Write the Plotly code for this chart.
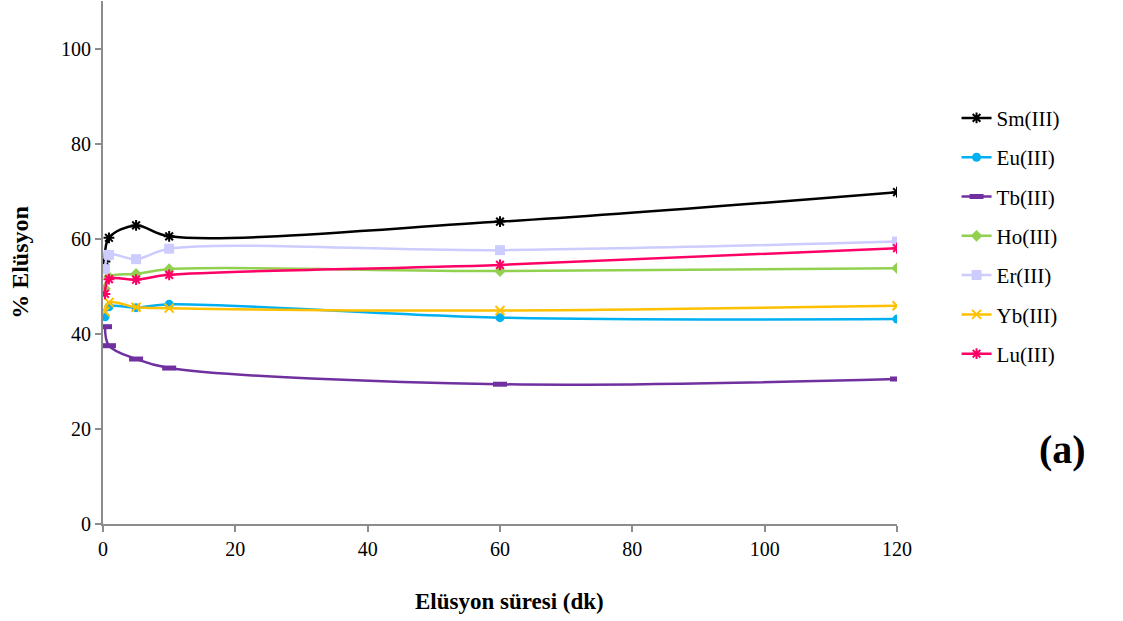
import plotly.graph_objects as go

time_min = [0.3, 0.9, 5, 10, 60, 120]
sm = [55.2, 60.2, 62.8, 60.5, 63.6, 69.8]
eu = [43.6, 45.7, 45.5, 46.2, 43.4, 43.1]
tb = [41.5, 37.5, 34.7, 32.8, 29.4, 30.5]
ho = [49.5, 52.0, 52.6, 53.6, 53.2, 53.8]
er = [53.6, 56.6, 55.7, 57.9, 57.6, 59.4]
yb = [44.7, 46.6, 45.6, 45.4, 44.9, 45.9]
lu = [48.4, 51.5, 51.4, 52.4, 54.5, 58.0]

series = [
    ("Sm(III)", sm, "#000000", "asterisk-open", 9, 2),
    ("Eu(III)", eu, "#00B0F0", "circle", 9, 0),
    ("Tb(III)", tb, "#7030A0", "line-ew-open", 10, 5),
    ("Ho(III)", ho, "#92D050", "diamond", 9, 0),
    ("Er(III)", er, "#CCCCFF", "square", 10, 0),
    ("Yb(III)", yb, "#FFC000", "x-thin-open", 9, 2),
    ("Lu(III)", lu, "#FF0066", "asterisk-open", 9, 2),
]

fig = go.Figure()
for i, (name, vals, color, sym, size, lw) in enumerate(series):
    fig.add_trace(go.Scatter(
        x=time_min, y=vals, name=name, mode="lines+markers",
        line=dict(color=color, width=2.5, shape="spline", smoothing=1.0),
        marker=dict(symbol=sym, size=size, color=color,
                    line=dict(color=color, width=lw)),
        legendgroup=f"g{i}",
    ))

font_family = "Liberation Serif"
fig.update_layout(
    width=1123, height=621,
    margin=dict(l=103, r=226, t=1, b=97),
    paper_bgcolor="white", plot_bgcolor="white",
    font=dict(family=font_family, size=20, color="black"),
    showlegend=True,
    legend=dict(x=1.075, y=0.815, xanchor="left", yanchor="top",
                font=dict(family=font_family, size=21, color="black"),
                tracegroupgap=9, traceorder="grouped",
                bgcolor="rgba(0,0,0,0)"),
    xaxis=dict(range=[0, 120], dtick=20, showgrid=False, zeroline=False,
               showline=True, linecolor="#8c8c8c", linewidth=2,
               ticks="outside", ticklen=6, tickcolor="#8c8c8c", tickwidth=1.5,
               tickfont=dict(family=font_family, size=20)),
    yaxis=dict(range=[0, 110], tickvals=[0, 20, 40, 60, 80, 100],
               showgrid=False, zeroline=False,
               showline=True, linecolor="#8c8c8c", linewidth=2,
               ticks="outside", ticklen=6, tickcolor="#8c8c8c", tickwidth=1.5,
               tickfont=dict(family=font_family, size=20),
               title=dict(text="<b>% Elüsyon</b>", standoff=26,
                          font=dict(family=font_family, size=24))),
    annotations=[
        dict(text="<b>Elüsyon süresi (dk)</b>", xref="paper", yref="paper",
             x=(510 - 103) / 794, y=(524 - 601) / 523, xanchor="center",
             yanchor="middle", showarrow=False,
             font=dict(family=font_family, size=23, color="black")),
        dict(text="<b>(a)</b>", xref="paper", yref="paper",
             x=1.209, y=0.1415, xanchor="center", yanchor="middle",
             showarrow=False,
             font=dict(family=font_family, size=40, color="black")),
    ],
)

fig.write_html("out.html")
